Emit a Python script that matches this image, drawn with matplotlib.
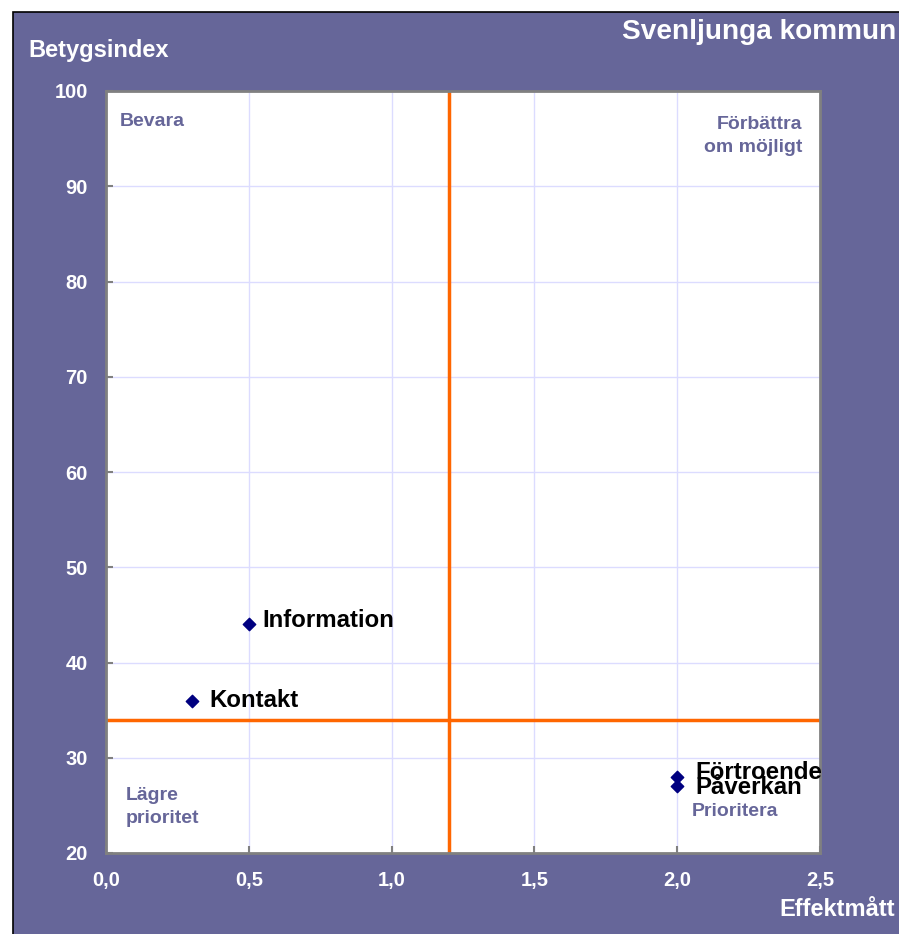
import matplotlib
matplotlib.use("Agg")
import matplotlib.pyplot as plt
from matplotlib.patches import Rectangle

plt.rcParams['font.family'] = ['Liberation Sans', 'DejaVu Sans']

names = ["Information", "Kontakt", "Förtroende", "Påverkan"]
effekt = [0.5, 0.3, 2.0, 2.0]
betyg = [44, 36, 28, 27]
label_offsets = [(10, 3), (13, 0), (13, 3), (13, -1)]
x_ticks = [0.0, 0.5, 1.0, 1.5, 2.0, 2.5]
x_ticklabels = ["0,0", "0,5", "1,0", "1,5", "2,0", "2,5"]
y_ticks = [20, 30, 40, 50, 60, 70, 80, 90, 100]
x_split = 1.2
y_split = 34

W, H = 899, 934
fig = plt.figure(figsize=(W / 100, H / 100), dpi=100)
fig.patch.set_facecolor("white")
bg = "#666699"
rect = Rectangle((13 / W, -0.01), 1, 1.01 - 12 / H, transform=fig.transFigure,
                 facecolor=bg, edgecolor="black", linewidth=1.2, zorder=-10)
fig.add_artist(rect)

ax = fig.add_axes([106 / W, (H - 853) / H, 714 / W, 762 / H])
ax.set_zorder(1)
ax.set_facecolor("white")
ax.set_xlim(0, 2.5)
ax.set_ylim(20, 100)
ax.set_xticks(x_ticks)
ax.set_xticklabels(x_ticklabels)
ax.set_yticks(y_ticks)
ax.grid(True, color="#dcdcff", linewidth=1)
ax.set_axisbelow(True)
for s in ax.spines.values():
    s.set_color("#808080")
    s.set_linewidth(2)
ax.tick_params(axis="both", direction="in", length=5, color="#808080", width=1.5,
               labelcolor="white", labelsize=14.5)
ax.tick_params(axis="y", pad=13)
ax.tick_params(axis="x", pad=13)
for lab in ax.get_xticklabels() + ax.get_yticklabels():
    lab.set_fontweight("bold")

ax.axvline(x_split, color="#ff6600", linewidth=2.5, zorder=2)
ax.axhline(y_split, color="#ff6600", linewidth=2.5, zorder=2)

ax.scatter(effekt, betyg, marker="D", s=40, color="#000080", zorder=3)
for n, x, y, off in zip(names, effekt, betyg, label_offsets):
    ax.annotate(n, (x, y), xytext=off, textcoords="offset points", ha="left", va="center",
                fontsize=17.3, fontweight="bold", color="black", zorder=4)

qc = "#666699"
ax.text(120 / W, 1 - 121 / H, "Bevara", transform=fig.transFigure, color=qc,
        fontsize=14, fontweight="bold", va="center", ha="left", zorder=5)
ax.text(802 / W, 1 - 136 / H, "Förbättra\nom möjligt", transform=fig.transFigure, color=qc,
        fontsize=14, fontweight="bold", va="center", ha="right", linespacing=1.4, zorder=5)
ax.text(126 / W, 1 - 807 / H, "Lägre\nprioritet", transform=fig.transFigure, color=qc,
        fontsize=14, fontweight="bold", va="center", ha="left", linespacing=1.4, zorder=5)
ax.text(692 / W, 1 - 812 / H, "Prioritera", transform=fig.transFigure, color=qc,
        fontsize=14, fontweight="bold", va="center", ha="left", zorder=5)

fig.text(28 / W, 1 - 50 / H, "Betygsindex", color="white", fontsize=17,
         fontweight="bold", va="center", ha="left")
fig.text(896 / W, 1 - 32 / H, "Svenljunga kommun", color="white", fontsize=20.2,
         fontweight="bold", va="center", ha="right")
fig.text(895 / W, 1 - 910 / H, "Effektmått", color="white", fontsize=17,
         fontweight="bold", va="center", ha="right")

fig.savefig("out.png", dpi=100, facecolor=fig.get_facecolor())
